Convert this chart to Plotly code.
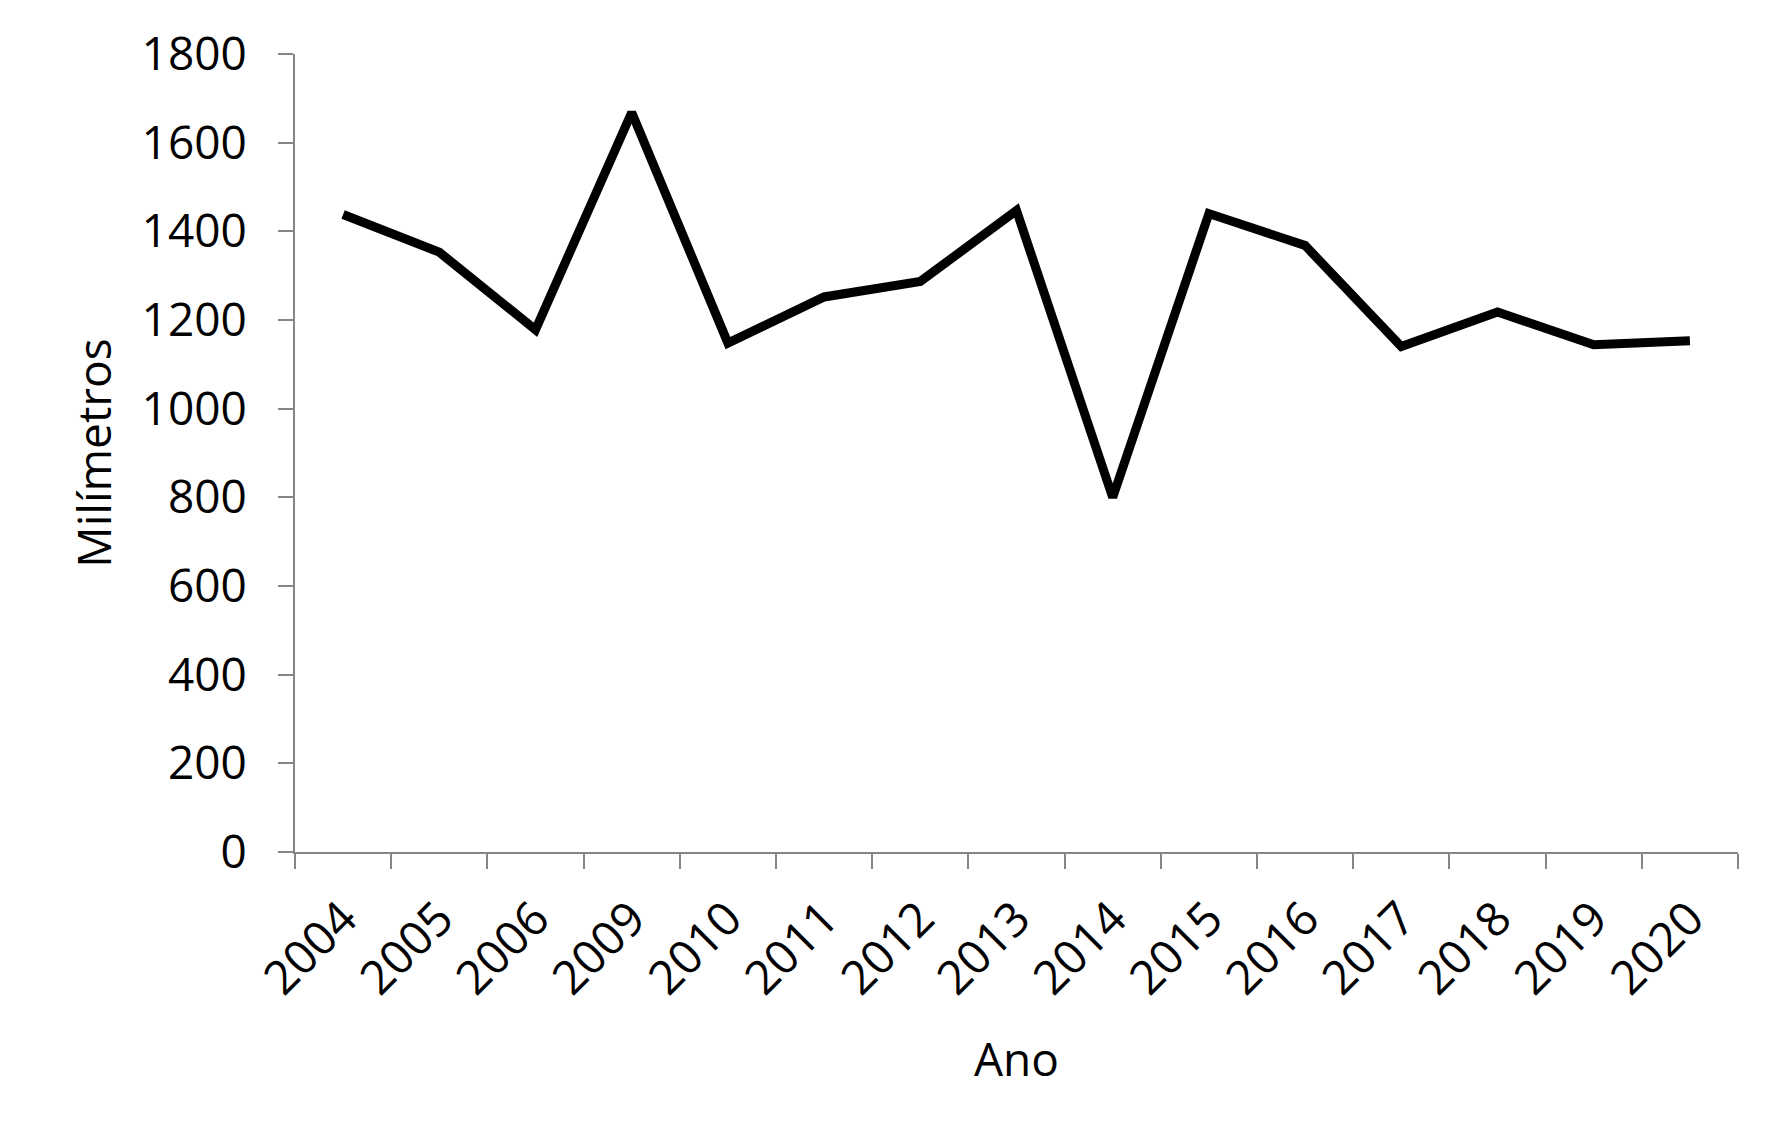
import plotly.graph_objects as go

# Annual precipitation (mm)
anos = ['2004', '2005', '2006', '2009', '2010', '2011', '2012', '2013',
        '2014', '2015', '2016', '2017', '2018', '2019', '2020']
milimetros = [1438, 1353, 1178, 1668, 1148, 1252, 1287, 1447,
              800, 1440, 1368, 1140, 1218, 1144, 1153]
y_ticks = [0, 200, 400, 600, 800, 1000, 1200, 1400, 1600, 1800]

FONT = 'Open Sans'
AXIS_GRAY = '#868686'

fig = go.Figure(go.Scatter(
    x=anos,
    y=milimetros,
    mode='lines',
    line=dict(color='black', width=9),
    showlegend=False
))

# the page body adds an 8px offset, margins compensate for it
fig.update_layout(
    template='none',
    width=1788,
    height=1144,
    paper_bgcolor='white',
    plot_bgcolor='white',
    font=dict(family=FONT, size=46, color='black'),
    margin=dict(l=287, r=58, t=46, b=300),
    xaxis=dict(
        type='category',
        range=[-0.5, len(anos) - 0.5],
        automargin=False,
        title=dict(text='Ano', standoff=37, font=dict(size=46)),
        tickangle=-45,
        tickson='boundaries',
        ticks='outside',
        ticklen=15,
        tickwidth=2,
        tickcolor=AXIS_GRAY,
        showline=True,
        linecolor=AXIS_GRAY,
        linewidth=2,
        showgrid=False,
        ticklabelstandoff=18,
        tickfont=dict(size=47)
    ),
    yaxis=dict(
        title=dict(text='Milímetros', standoff=15, font=dict(size=46)),
        range=[0, 1800],
        automargin=False,
        tickvals=y_ticks,
        ticks='outside',
        ticklen=15,
        tickwidth=2,
        tickcolor=AXIS_GRAY,
        showline=True,
        linecolor=AXIS_GRAY,
        linewidth=2,
        showgrid=False,
        zeroline=False,
        ticklabelstandoff=22,
        tickfont=dict(size=46)
    )
)

fig.write_html("out.html")
